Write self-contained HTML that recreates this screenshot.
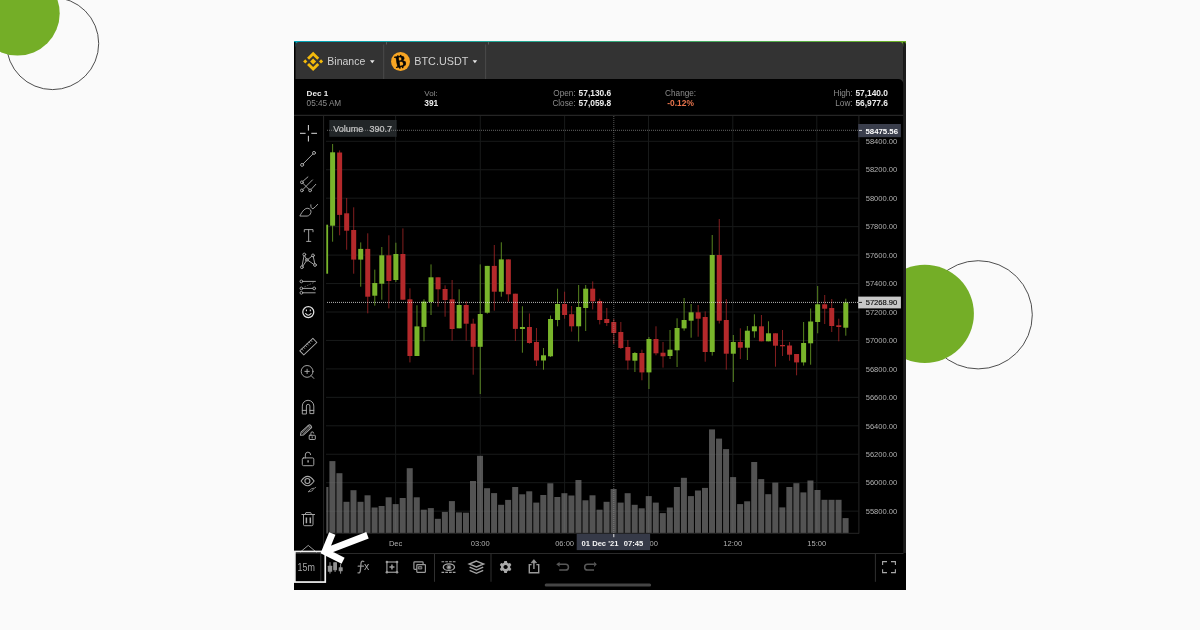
<!DOCTYPE html>
<html lang="en">
<head>
<meta charset="utf-8">
<title>Binance BTC.USDT 15m chart</title>
<style>
html,body{margin:0;padding:0;}
body{width:1200px;height:630px;overflow:hidden;background:#fafafa;position:relative;}
svg{position:absolute;left:0;top:0;display:block;}
text{font-family:"Liberation Sans",Arial,sans-serif;}
.ax text{font-size:7.55px;fill:#b0b0b0;}
.lbl{fill:#8c8c8c;font-size:8.2px;}
.val{fill:#ececec;font-size:8.4px;font-weight:bold;}
.ic{fill:none;stroke:#aaaaaa;stroke-width:0.95;stroke-linecap:round;stroke-linejoin:round;}
.ic2{fill:none;stroke:#a0a0a0;stroke-width:1.2;stroke-linecap:round;stroke-linejoin:round;}
</style>
</head>
<body>
<svg width="1200" height="630" viewBox="0 0 1200 630">
<defs>
<linearGradient id="topg" x1="0" x2="1" y1="0" y2="0">
<stop offset="0" stop-color="#00a3b8"/><stop offset="0.45" stop-color="#2aa88a"/><stop offset="1" stop-color="#6cb022"/>
</linearGradient>
<clipPath id="plotclip"><rect x="326.3" y="116" width="532.2" height="417"/></clipPath>
</defs>

<!-- decorative circles -->
<circle cx="52.6" cy="43.5" r="46.1" fill="none" stroke="#3a3a3a" stroke-width="0.9"/>
<circle cx="17.5" cy="13.4" r="42.2" fill="#74ae27"/>
<circle cx="978.2" cy="314.8" r="54.1" fill="none" stroke="#3a3a3a" stroke-width="0.9"/>
<circle cx="924.8" cy="313.8" r="49.1" fill="#74ae27"/>

<!-- screenshot panel -->
<rect x="294" y="41" width="612" height="549" fill="#000"/>
<rect x="294" y="41" width="612" height="5.5" fill="url(#topg)"/>
<rect x="294" y="42.1" width="1.6" height="10" fill="#000"/>
<path d="M903.2 553 V42.1 H903.6 a2.4 2.4 0 0 1 2.4 2.4 V553 Z" fill="#1d1d1d"/>
<path d="M295.5 79 V45.6 a3.5 3.5 0 0 1 3.5 -3.5 H899.6 a3.5 3.5 0 0 1 3.5 3.5 V79 Z" fill="#333"/>
<path d="M898.3 79 H903.3 V84 a5 5 0 0 0 -5 -5 Z" fill="#333"/>
<!-- header separators -->
<g stroke="#4a4a4a" stroke-width="1"><line x1="383.7" x2="383.7" y1="44.5" y2="79"/><line x1="485.6" x2="485.6" y1="44.5" y2="79"/></g>
<g stroke="#666" stroke-width="0.8"><line x1="386.5" x2="386.5" y1="42" y2="44.5"/><line x1="488.5" x2="488.5" y1="42" y2="44.5"/></g>

<!-- Binance logo -->
<g transform="translate(313.15 61.4)" fill="#f3ba0c">
<path d="M0 -9.7 L6.1 -3.6 L4.1 -1.6 L0 -5.7 L-4.1 -1.6 L-6.1 -3.6 Z"/>
<path d="M0 9.7 L6.1 3.6 L4.1 1.6 L0 5.7 L-4.1 1.6 L-6.1 3.6 Z"/>
<path d="M0 -3 L3 0 L0 3 L-3 0 Z"/>
<path d="M-7.9 -2.1 L-5.8 0 L-7.9 2.1 L-10 0 Z"/>
<path d="M7.9 -2.1 L10 0 L7.9 2.1 L5.8 0 Z"/>
</g>
<text x="327.3" y="65.1" font-size="10.5" fill="#d0d0d0">Binance</text>
<path d="M370 60.3 h4.6 l-2.3 2.9 z" fill="#e6e6e6"/>

<!-- BTC logo -->
<circle cx="400.5" cy="61.55" r="9.45" fill="#f8a623"/>
<g transform="rotate(-10 400.5 61.55)">
<text x="400.5" y="67" font-size="16.5" font-weight="bold" fill="#050505" stroke="#050505" stroke-width="0.5" text-anchor="middle" style="font-family:'Liberation Serif',serif">B</text>
<path d="M398.8 55 v2 M401.6 55 v2 M398.8 66.4 v2 M401.6 66.4 v2" stroke="#050505" stroke-width="1.5"/>
</g>
<text x="414.3" y="65.1" font-size="10.8" fill="#d0d0d0">BTC.USDT</text>
<path d="M472.6 60.3 h4.6 l-2.3 2.9 z" fill="#e6e6e6"/>

<!-- info bar -->
<text x="306.6" y="96.2" class="val" style="font-size:8.1px">Dec 1</text>
<text x="306.6" y="106.4" class="lbl">05:45 AM</text>
<text x="424.3" y="96.2" class="lbl" style="font-size:8px">Vol:</text>
<text x="424.3" y="106.4" class="val">391</text>
<text x="575.6" y="96.2" class="lbl" text-anchor="end">Open:</text>
<text x="578.6" y="96.2" class="val">57,130.6</text>
<text x="575.6" y="106.4" class="lbl" text-anchor="end">Close:</text>
<text x="578.6" y="106.4" class="val">57,059.8</text>
<text x="680.6" y="96.2" class="lbl" text-anchor="middle">Change:</text>
<text x="680.6" y="106.4" class="val" text-anchor="middle" style="fill:#e8744c">-0.12%</text>
<text x="852.6" y="96.2" class="lbl" text-anchor="end">High:</text>
<text x="855.4" y="96.2" class="val">57,140.0</text>
<text x="852.6" y="106.4" class="lbl" text-anchor="end">Low:</text>
<text x="855.4" y="106.4" class="val">56,977.6</text>
<rect x="294" y="114.8" width="609.3" height="1" fill="#2e2e2e"/>

<!-- chart -->
<g stroke="#181a1a" stroke-width="1">
<line x1="326" x2="858.5" y1="141.3" y2="141.3"/>
<line x1="326" x2="858.5" y1="169.75" y2="169.75"/>
<line x1="326" x2="858.5" y1="198.2" y2="198.2"/>
<line x1="326" x2="858.5" y1="226.65" y2="226.65"/>
<line x1="326" x2="858.5" y1="255.1" y2="255.1"/>
<line x1="326" x2="858.5" y1="283.55" y2="283.55"/>
<line x1="326" x2="858.5" y1="312" y2="312"/>
<line x1="326" x2="858.5" y1="340.45" y2="340.45"/>
<line x1="326" x2="858.5" y1="368.9" y2="368.9"/>
<line x1="326" x2="858.5" y1="397.35" y2="397.35"/>
<line x1="326" x2="858.5" y1="425.8" y2="425.8"/>
<line x1="326" x2="858.5" y1="454.25" y2="454.25"/>
<line x1="326" x2="858.5" y1="482.7" y2="482.7"/>
<line x1="326" x2="858.5" y1="511.15" y2="511.15"/>
<line x1="395.6" x2="395.6" y1="116" y2="533"/>
<line x1="480.3" x2="480.3" y1="116" y2="533"/>
<line x1="564.6" x2="564.6" y1="116" y2="533"/>
<line x1="648.5" x2="648.5" y1="116" y2="533"/>
<line x1="732.8" x2="732.8" y1="116" y2="533"/>
<line x1="816.8" x2="816.8" y1="116" y2="533"/>
</g>
<g fill="#7a7a7a" fill-opacity="0.68" clip-path="url(#plotclip)">
<rect x="322.37" y="487" width="6" height="46"/>
<rect x="329.4" y="461.1" width="6" height="71.9"/>
<rect x="336.43" y="473.2" width="6" height="59.8"/>
<rect x="343.46" y="501.8" width="6" height="31.2"/>
<rect x="350.49" y="490.2" width="6" height="42.8"/>
<rect x="357.52" y="501.8" width="6" height="31.2"/>
<rect x="364.55" y="495.3" width="6" height="37.7"/>
<rect x="371.58" y="507.5" width="6" height="25.5"/>
<rect x="378.61" y="506" width="6" height="27"/>
<rect x="385.64" y="497.3" width="6" height="35.7"/>
<rect x="392.67" y="504.1" width="6" height="28.9"/>
<rect x="399.7" y="498" width="6" height="35"/>
<rect x="406.73" y="468.2" width="6" height="64.8"/>
<rect x="413.76" y="497.3" width="6" height="35.7"/>
<rect x="420.79" y="509.7" width="6" height="23.3"/>
<rect x="427.82" y="508.1" width="6" height="24.9"/>
<rect x="434.85" y="518.8" width="6" height="14.2"/>
<rect x="441.88" y="511.9" width="6" height="21.1"/>
<rect x="448.91" y="501.1" width="6" height="31.9"/>
<rect x="455.94" y="512.4" width="6" height="20.6"/>
<rect x="462.97" y="512.7" width="6" height="20.3"/>
<rect x="470" y="481" width="6" height="52"/>
<rect x="477.03" y="455.8" width="6" height="77.2"/>
<rect x="484.06" y="488.2" width="6" height="44.8"/>
<rect x="491.09" y="493.1" width="6" height="39.9"/>
<rect x="498.12" y="504.8" width="6" height="28.2"/>
<rect x="505.15" y="499.9" width="6" height="33.1"/>
<rect x="512.18" y="487" width="6" height="46"/>
<rect x="519.21" y="494.3" width="6" height="38.7"/>
<rect x="526.24" y="491.3" width="6" height="41.7"/>
<rect x="533.27" y="502.6" width="6" height="30.4"/>
<rect x="540.3" y="495" width="6" height="38"/>
<rect x="547.33" y="483.3" width="6" height="49.7"/>
<rect x="554.36" y="497" width="6" height="36"/>
<rect x="561.39" y="493.2" width="6" height="39.8"/>
<rect x="568.42" y="495.5" width="6" height="37.5"/>
<rect x="575.45" y="480" width="6" height="53"/>
<rect x="582.48" y="500.3" width="6" height="32.7"/>
<rect x="589.51" y="495.3" width="6" height="37.7"/>
<rect x="596.54" y="509.7" width="6" height="23.3"/>
<rect x="603.57" y="501.8" width="6" height="31.2"/>
<rect x="610.6" y="489" width="6" height="44"/>
<rect x="617.63" y="502.6" width="6" height="30.4"/>
<rect x="624.66" y="493.2" width="6" height="39.8"/>
<rect x="631.69" y="504.8" width="6" height="28.2"/>
<rect x="638.72" y="508.3" width="6" height="24.7"/>
<rect x="645.75" y="496.1" width="6" height="36.9"/>
<rect x="652.78" y="502.6" width="6" height="30.4"/>
<rect x="659.81" y="513.1" width="6" height="19.9"/>
<rect x="666.84" y="507.5" width="6" height="25.5"/>
<rect x="673.87" y="487" width="6" height="46"/>
<rect x="680.9" y="477.8" width="6" height="55.2"/>
<rect x="687.93" y="496.1" width="6" height="36.9"/>
<rect x="694.96" y="490.5" width="6" height="42.5"/>
<rect x="701.99" y="487.9" width="6" height="45.1"/>
<rect x="709.02" y="429.4" width="6" height="103.6"/>
<rect x="716.05" y="438.6" width="6" height="94.4"/>
<rect x="723.08" y="449.1" width="6" height="83.9"/>
<rect x="730.11" y="477.1" width="6" height="55.9"/>
<rect x="737.14" y="504.1" width="6" height="28.9"/>
<rect x="744.17" y="501.3" width="6" height="31.7"/>
<rect x="751.2" y="462" width="6" height="71"/>
<rect x="758.23" y="479.1" width="6" height="53.9"/>
<rect x="765.26" y="494.2" width="6" height="38.8"/>
<rect x="772.29" y="482.6" width="6" height="50.4"/>
<rect x="779.32" y="507.4" width="6" height="25.6"/>
<rect x="786.35" y="487" width="6" height="46"/>
<rect x="793.38" y="483.2" width="6" height="49.8"/>
<rect x="800.41" y="492.4" width="6" height="40.6"/>
<rect x="807.44" y="480.5" width="6" height="52.5"/>
<rect x="814.47" y="490" width="6" height="43"/>
<rect x="821.5" y="499.8" width="6" height="33.2"/>
<rect x="828.53" y="499.8" width="6" height="33.2"/>
<rect x="835.56" y="499.8" width="6" height="33.2"/>
<rect x="842.59" y="518.1" width="6" height="14.9"/>
</g>
<g clip-path="url(#plotclip)">
<rect x="323.1" y="224.7" width="5" height="49" fill="#79b52b"/>
<rect x="332.1" y="144" width="1" height="97.7" fill="#79b52b" fill-opacity="0.72"/>
<rect x="330.1" y="152.3" width="5" height="73.4" fill="#79b52b"/>
<rect x="339.13" y="150.4" width="1" height="84.9" fill="#b4292b" fill-opacity="0.72"/>
<rect x="337.13" y="152.5" width="5" height="62.4" fill="#b4292b"/>
<rect x="346.16" y="198" width="1" height="51.7" fill="#b4292b" fill-opacity="0.72"/>
<rect x="344.16" y="213.3" width="5" height="17.4" fill="#b4292b"/>
<rect x="353.19" y="207.3" width="1" height="66.4" fill="#b4292b" fill-opacity="0.72"/>
<rect x="351.19" y="230" width="5" height="29.6" fill="#b4292b"/>
<rect x="360.22" y="242.4" width="1" height="44.3" fill="#79b52b" fill-opacity="0.72"/>
<rect x="358.22" y="248.9" width="5" height="10.7" fill="#79b52b"/>
<rect x="367.25" y="233.3" width="1" height="80" fill="#b4292b" fill-opacity="0.72"/>
<rect x="365.25" y="248.9" width="5" height="47.8" fill="#b4292b"/>
<rect x="374.28" y="269.6" width="1" height="36" fill="#79b52b" fill-opacity="0.72"/>
<rect x="372.28" y="283" width="5" height="12.7" fill="#79b52b"/>
<rect x="381.31" y="247" width="1" height="52.7" fill="#79b52b" fill-opacity="0.72"/>
<rect x="379.31" y="255.3" width="5" height="28.4" fill="#79b52b"/>
<rect x="388.34" y="235.3" width="1" height="73.1" fill="#b4292b" fill-opacity="0.72"/>
<rect x="386.34" y="255.3" width="5" height="25.7" fill="#b4292b"/>
<rect x="395.37" y="242.7" width="1" height="39.3" fill="#79b52b" fill-opacity="0.72"/>
<rect x="393.37" y="254" width="5" height="26" fill="#79b52b"/>
<rect x="402.4" y="228.4" width="1" height="71.3" fill="#b4292b" fill-opacity="0.72"/>
<rect x="400.4" y="254" width="5" height="45.7" fill="#b4292b"/>
<rect x="409.43" y="288.3" width="1" height="74.1" fill="#b4292b" fill-opacity="0.72"/>
<rect x="407.43" y="299.3" width="5" height="56.7" fill="#b4292b"/>
<rect x="416.46" y="305.3" width="1" height="50.7" fill="#79b52b" fill-opacity="0.72"/>
<rect x="414.46" y="326.4" width="5" height="29.6" fill="#79b52b"/>
<rect x="423.49" y="299.3" width="1" height="42" fill="#79b52b" fill-opacity="0.72"/>
<rect x="421.49" y="301.6" width="5" height="25.3" fill="#79b52b"/>
<rect x="430.52" y="264.4" width="1" height="50.6" fill="#79b52b" fill-opacity="0.72"/>
<rect x="428.52" y="277.3" width="5" height="24.7" fill="#79b52b"/>
<rect x="437.55" y="277.3" width="1" height="29.4" fill="#b4292b" fill-opacity="0.72"/>
<rect x="435.55" y="277.3" width="5" height="12" fill="#b4292b"/>
<rect x="444.58" y="285.3" width="1" height="31.4" fill="#b4292b" fill-opacity="0.72"/>
<rect x="442.58" y="289" width="5" height="11" fill="#b4292b"/>
<rect x="451.61" y="280" width="1" height="60.7" fill="#b4292b" fill-opacity="0.72"/>
<rect x="449.61" y="299.3" width="5" height="29.7" fill="#b4292b"/>
<rect x="458.64" y="289.3" width="1" height="39" fill="#79b52b" fill-opacity="0.72"/>
<rect x="456.64" y="305" width="5" height="23.3" fill="#79b52b"/>
<rect x="465.67" y="301.3" width="1" height="39.4" fill="#b4292b" fill-opacity="0.72"/>
<rect x="463.67" y="305" width="5" height="18.7" fill="#b4292b"/>
<rect x="472.7" y="318.7" width="1" height="56" fill="#b4292b" fill-opacity="0.72"/>
<rect x="470.7" y="323.7" width="5" height="23.1" fill="#b4292b"/>
<rect x="479.73" y="264.4" width="1" height="129.6" fill="#79b52b" fill-opacity="0.72"/>
<rect x="477.73" y="314" width="5" height="32.8" fill="#79b52b"/>
<rect x="486.76" y="265.9" width="1" height="47.8" fill="#79b52b" fill-opacity="0.72"/>
<rect x="484.76" y="265.9" width="5" height="46.8" fill="#79b52b"/>
<rect x="493.79" y="245" width="1" height="65.7" fill="#b4292b" fill-opacity="0.72"/>
<rect x="491.79" y="265.9" width="5" height="25.8" fill="#b4292b"/>
<rect x="500.82" y="242.3" width="1" height="54.4" fill="#79b52b" fill-opacity="0.72"/>
<rect x="498.82" y="259.4" width="5" height="32.3" fill="#79b52b"/>
<rect x="507.85" y="259.4" width="1" height="42.3" fill="#b4292b" fill-opacity="0.72"/>
<rect x="505.85" y="259.4" width="5" height="34.9" fill="#b4292b"/>
<rect x="514.88" y="293.7" width="1" height="47.3" fill="#b4292b" fill-opacity="0.72"/>
<rect x="512.88" y="293.7" width="5" height="35.2" fill="#b4292b"/>
<rect x="521.91" y="306.3" width="1" height="46.4" fill="#79b52b" fill-opacity="0.72"/>
<rect x="519.91" y="327" width="5" height="2" fill="#79b52b"/>
<rect x="528.94" y="313.5" width="1" height="30.2" fill="#b4292b" fill-opacity="0.72"/>
<rect x="526.94" y="327" width="5" height="16" fill="#b4292b"/>
<rect x="535.97" y="328" width="1" height="38" fill="#b4292b" fill-opacity="0.72"/>
<rect x="533.97" y="342" width="5" height="18.5" fill="#b4292b"/>
<rect x="543" y="348" width="1" height="21.7" fill="#79b52b" fill-opacity="0.72"/>
<rect x="541" y="355.3" width="5" height="5.2" fill="#79b52b"/>
<rect x="550.03" y="315.5" width="1" height="41.5" fill="#79b52b" fill-opacity="0.72"/>
<rect x="548.03" y="319" width="5" height="37.3" fill="#79b52b"/>
<rect x="557.06" y="288.7" width="1" height="37.6" fill="#79b52b" fill-opacity="0.72"/>
<rect x="555.06" y="304" width="5" height="16" fill="#79b52b"/>
<rect x="564.09" y="291.7" width="1" height="27" fill="#b4292b" fill-opacity="0.72"/>
<rect x="562.09" y="304" width="5" height="11" fill="#b4292b"/>
<rect x="571.12" y="306" width="1" height="25.6" fill="#b4292b" fill-opacity="0.72"/>
<rect x="569.12" y="314.2" width="5" height="12.1" fill="#b4292b"/>
<rect x="578.15" y="285" width="1" height="56.5" fill="#79b52b" fill-opacity="0.72"/>
<rect x="576.15" y="307" width="5" height="19.3" fill="#79b52b"/>
<rect x="585.18" y="285" width="1" height="46" fill="#79b52b" fill-opacity="0.72"/>
<rect x="583.18" y="288.7" width="5" height="19.3" fill="#79b52b"/>
<rect x="592.21" y="281.4" width="1" height="28" fill="#b4292b" fill-opacity="0.72"/>
<rect x="590.21" y="288.7" width="5" height="12.6" fill="#b4292b"/>
<rect x="599.24" y="298.7" width="1" height="25.7" fill="#b4292b" fill-opacity="0.72"/>
<rect x="597.24" y="301" width="5" height="19" fill="#b4292b"/>
<rect x="606.27" y="308" width="1" height="18" fill="#b4292b" fill-opacity="0.72"/>
<rect x="604.27" y="319" width="5" height="4" fill="#b4292b"/>
<rect x="613.3" y="319" width="1" height="25" fill="#b4292b" fill-opacity="0.72"/>
<rect x="611.3" y="322" width="5" height="11" fill="#b4292b"/>
<rect x="620.33" y="322" width="1" height="27" fill="#b4292b" fill-opacity="0.72"/>
<rect x="618.33" y="332" width="5" height="16" fill="#b4292b"/>
<rect x="627.36" y="340" width="1" height="29.7" fill="#b4292b" fill-opacity="0.72"/>
<rect x="625.36" y="347" width="5" height="13.5" fill="#b4292b"/>
<rect x="634.39" y="352" width="1" height="20" fill="#79b52b" fill-opacity="0.72"/>
<rect x="632.39" y="353" width="5" height="7.7" fill="#79b52b"/>
<rect x="641.42" y="349.7" width="1" height="30.6" fill="#b4292b" fill-opacity="0.72"/>
<rect x="639.42" y="353" width="5" height="19.4" fill="#b4292b"/>
<rect x="648.45" y="337" width="1" height="52" fill="#79b52b" fill-opacity="0.72"/>
<rect x="646.45" y="339" width="5" height="33.4" fill="#79b52b"/>
<rect x="655.48" y="326.3" width="1" height="29" fill="#b4292b" fill-opacity="0.72"/>
<rect x="653.48" y="339" width="5" height="14.3" fill="#b4292b"/>
<rect x="662.51" y="342" width="1" height="25.6" fill="#b4292b" fill-opacity="0.72"/>
<rect x="660.51" y="352.7" width="5" height="3.6" fill="#b4292b"/>
<rect x="669.54" y="330" width="1" height="29" fill="#79b52b" fill-opacity="0.72"/>
<rect x="667.54" y="349.7" width="5" height="6.3" fill="#79b52b"/>
<rect x="676.57" y="318.3" width="1" height="48.7" fill="#79b52b" fill-opacity="0.72"/>
<rect x="674.57" y="328" width="5" height="22.3" fill="#79b52b"/>
<rect x="683.6" y="298" width="1" height="32.7" fill="#79b52b" fill-opacity="0.72"/>
<rect x="681.6" y="320" width="5" height="8.4" fill="#79b52b"/>
<rect x="690.63" y="304" width="1" height="33.7" fill="#79b52b" fill-opacity="0.72"/>
<rect x="688.63" y="312.3" width="5" height="8.4" fill="#79b52b"/>
<rect x="697.66" y="305" width="1" height="31.7" fill="#b4292b" fill-opacity="0.72"/>
<rect x="695.66" y="312.3" width="5" height="6.4" fill="#b4292b"/>
<rect x="704.69" y="311.4" width="1" height="50.3" fill="#b4292b" fill-opacity="0.72"/>
<rect x="702.69" y="317" width="5" height="35" fill="#b4292b"/>
<rect x="711.72" y="235" width="1" height="120.6" fill="#79b52b" fill-opacity="0.72"/>
<rect x="709.72" y="255" width="5" height="97" fill="#79b52b"/>
<rect x="718.75" y="219" width="1" height="104.5" fill="#b4292b" fill-opacity="0.72"/>
<rect x="716.75" y="255" width="5" height="65.7" fill="#b4292b"/>
<rect x="725.78" y="299" width="1" height="70.6" fill="#b4292b" fill-opacity="0.72"/>
<rect x="723.78" y="320" width="5" height="33.7" fill="#b4292b"/>
<rect x="732.81" y="335" width="1" height="47" fill="#79b52b" fill-opacity="0.72"/>
<rect x="730.81" y="342" width="5" height="11.7" fill="#79b52b"/>
<rect x="739.84" y="328.3" width="1" height="30.7" fill="#b4292b" fill-opacity="0.72"/>
<rect x="737.84" y="342" width="5" height="5.7" fill="#b4292b"/>
<rect x="746.87" y="326" width="1" height="34" fill="#79b52b" fill-opacity="0.72"/>
<rect x="744.87" y="330.7" width="5" height="17" fill="#79b52b"/>
<rect x="753.9" y="314.3" width="1" height="23.4" fill="#79b52b" fill-opacity="0.72"/>
<rect x="751.9" y="326.3" width="5" height="5" fill="#79b52b"/>
<rect x="760.93" y="315" width="1" height="26.3" fill="#b4292b" fill-opacity="0.72"/>
<rect x="758.93" y="326.3" width="5" height="15" fill="#b4292b"/>
<rect x="767.96" y="321.3" width="1" height="20" fill="#79b52b" fill-opacity="0.72"/>
<rect x="765.96" y="333.3" width="5" height="8" fill="#79b52b"/>
<rect x="774.99" y="333.3" width="1" height="33.4" fill="#b4292b" fill-opacity="0.72"/>
<rect x="772.99" y="333.3" width="5" height="12.4" fill="#b4292b"/>
<rect x="782.02" y="330" width="1" height="26" fill="#b4292b" fill-opacity="0.72"/>
<rect x="780.02" y="345" width="5" height="1.3" fill="#b4292b"/>
<rect x="789.05" y="342" width="1" height="18.7" fill="#b4292b" fill-opacity="0.72"/>
<rect x="787.05" y="345.5" width="5" height="9.2" fill="#b4292b"/>
<rect x="796.08" y="354" width="1" height="21.3" fill="#b4292b" fill-opacity="0.72"/>
<rect x="794.08" y="354" width="5" height="8.4" fill="#b4292b"/>
<rect x="803.11" y="322" width="1" height="43.6" fill="#79b52b" fill-opacity="0.72"/>
<rect x="801.11" y="343" width="5" height="19.4" fill="#79b52b"/>
<rect x="810.14" y="308.5" width="1" height="56.2" fill="#79b52b" fill-opacity="0.72"/>
<rect x="808.14" y="321.5" width="5" height="21.8" fill="#79b52b"/>
<rect x="817.17" y="286" width="1" height="47.3" fill="#79b52b" fill-opacity="0.72"/>
<rect x="815.17" y="304.3" width="5" height="17.7" fill="#79b52b"/>
<rect x="824.2" y="295" width="1" height="29" fill="#b4292b" fill-opacity="0.72"/>
<rect x="822.2" y="304.3" width="5" height="4.4" fill="#b4292b"/>
<rect x="831.23" y="299" width="1" height="33" fill="#b4292b" fill-opacity="0.72"/>
<rect x="829.23" y="308" width="5" height="18" fill="#b4292b"/>
<rect x="838.26" y="318.7" width="1" height="22.6" fill="#b4292b" fill-opacity="0.72"/>
<rect x="836.26" y="325.3" width="5" height="1.7" fill="#b4292b"/>
<rect x="845.29" y="298.7" width="1" height="37" fill="#79b52b" fill-opacity="0.72"/>
<rect x="843.29" y="302.4" width="5" height="25.3" fill="#79b52b"/>
</g>
<!-- plot borders -->
<g stroke="#262626" stroke-width="1">
<line x1="323.6" x2="323.6" y1="116" y2="553"/>
<line x1="858.9" x2="858.9" y1="116" y2="533.5"/>
<line x1="326" x2="859" y1="533.3" y2="533.3"/>
</g>
<!-- current price dotted line -->
<line x1="327" x2="858" y1="302.4" y2="302.4" stroke="#f0f0f0" stroke-width="1" stroke-dasharray="1 1" opacity="0.75"/>
<!-- crosshair -->
<line x1="613.8" x2="613.8" y1="116" y2="533" stroke="#9a9a9a" stroke-width="1" stroke-dasharray="1 1" opacity="0.55"/>

<!-- Volume legend -->
<rect x="329.3" y="120" width="67.4" height="16.8" fill="#2a3032" opacity="0.8"/>
<line x1="327" x2="858" y1="130.3" y2="130.3" stroke="#9a9a9a" stroke-width="1" stroke-dasharray="1 1" opacity="0.65"/>
<text x="333.2" y="131.8" font-size="9" fill="#c4c4c4" stroke="#c4c4c4" stroke-width="0.2">Volume</text>
<text x="369.6" y="131.8" font-size="9" fill="#c4c4c4" stroke="#c4c4c4" stroke-width="0.2">390.7</text>

<!-- axis labels -->
<g class="ax">
<text x="865.7" y="144">58400.00</text>
<text x="865.7" y="172.45">58200.00</text>
<text x="865.7" y="200.9">58000.00</text>
<text x="865.7" y="229.35">57800.00</text>
<text x="865.7" y="257.8">57600.00</text>
<text x="865.7" y="286.25">57400.00</text>
<text x="865.7" y="314.7">57200.00</text>
<text x="865.7" y="343.15">57000.00</text>
<text x="865.7" y="371.6">56800.00</text>
<text x="865.7" y="400.05">56600.00</text>
<text x="865.7" y="428.5">56400.00</text>
<text x="865.7" y="456.95">56200.00</text>
<text x="865.7" y="485.4">56000.00</text>
<text x="865.7" y="513.85">55800.00</text>
<text x="395.6" y="545.7" text-anchor="middle">Dec</text>
<text x="480.3" y="545.7" text-anchor="middle">03:00</text>
<text x="564.6" y="545.7" text-anchor="middle">06:00</text>
<text x="648.5" y="545.7" text-anchor="middle">09:00</text>
<text x="732.8" y="545.7" text-anchor="middle">12:00</text>
<text x="816.8" y="545.7" text-anchor="middle">15:00</text>
</g>
<!-- price tags -->
<rect x="858.2" y="124" width="42.7" height="13.2" fill="#3a3e4c"/>
<line x1="859" x2="862" y1="130.4" y2="130.4" stroke="#e0e0e0" stroke-width="1"/>
<text x="865.5" y="133.6" font-size="7.8" font-weight="bold" fill="#fff">58475.56</text>
<rect x="858.2" y="296.6" width="42.7" height="11.8" fill="#c8c8c8"/>
<line x1="859" x2="862" y1="302.4" y2="302.4" stroke="#222" stroke-width="1"/>
<text x="865.7" y="305.2" font-size="7.55" fill="#0c0c0c" stroke="#0c0c0c" stroke-width="0.15">57268.90</text>
<!-- crosshair time tag -->
<rect x="576.7" y="533.8" width="73.4" height="16.3" fill="#363a48"/>
<line x1="613.8" x2="613.8" y1="534" y2="537.2" stroke="#e8e8e8" stroke-width="1"/>
<text x="581.6" y="545.8" font-size="7.6" font-weight="bold" fill="#f4f4f4">01 Dec '21</text>
<text x="623.8" y="545.8" font-size="7.6" font-weight="bold" fill="#f4f4f4">07:45</text>

<!-- left toolbar icons -->
<g id="ltools">
<!-- crosshair -->
<g stroke="#dcdcdc" stroke-width="1"><line x1="308.4" x2="308.4" y1="125" y2="130.6"/><line x1="308.4" x2="308.4" y1="135.8" y2="141.5"/><line x1="300" x2="305.6" y1="133.3" y2="133.3"/><line x1="311.3" x2="317" y1="133.3" y2="133.3"/></g>
<!-- trend line -->
<g class="ic"><line x1="303.2" y1="163.8" x2="312.9" y2="154"/><circle cx="302.1" cy="164.9" r="1.5"/><circle cx="314" cy="152.9" r="1.5"/></g>
<!-- pitchfork -->
<g class="ic"><line x1="303" y1="181.2" x2="307.9" y2="176.9"/><line x1="303" y1="189.4" x2="312.5" y2="179.9"/><line x1="311.2" y1="189.3" x2="315.8" y2="184.3"/><line x1="303.1" y1="183.5" x2="309.1" y2="189.4"/><circle cx="301.9" cy="182.3" r="1.4"/><circle cx="301.9" cy="190.4" r="1.4"/><circle cx="310.1" cy="190.4" r="1.4"/></g>
<!-- brush -->
<g class="ic"><path d="M300 215.7 C302.6 210.6 305.2 208 307.9 208.3 C310.3 208.8 311.4 210.6 310.9 212.5 C310.3 214.7 309.1 215.8 307.6 216 Z"/><path d="M310.8 204.8 C310.6 207 311.4 208.6 313 208.8 C314.8 207.6 316.2 206 317.6 204.4"/></g>
<!-- text T -->
<g class="ic" stroke-linecap="butt"><path d="M304.3 231.8 V229.6 H313 V231.8 M308.65 229.6 V241.4 M306.6 241.4 H310.8"/></g>
<!-- pattern -->
<g class="ic"><path d="M304.6 255.8 L306.6 259.2 M307.9 259.4 L311.9 256.2 M313.3 256.8 L314.8 263.6 M313.8 264.4 L308 260.4 M306.4 260.8 L302.8 266.2 M302.1 265.8 L304 256"/><circle cx="304.3" cy="254.5" r="1.4"/><circle cx="313" cy="255.4" r="1.4"/><circle cx="315" cy="265" r="1.4"/><circle cx="301.9" cy="267.2" r="1.4"/><rect x="306.1" y="258.9" width="2" height="2"/></g>
<!-- forecast/measure -->
<g class="ic"><line x1="303" x2="315.4" y1="281.4" y2="281.4"/><line x1="303" x2="312.8" y1="288.4" y2="288.4"/><line x1="303" x2="315.2" y1="292.8" y2="292.8"/><circle cx="301.4" cy="281.4" r="1.4"/><circle cx="301.4" cy="288.4" r="1.4"/><circle cx="314.2" cy="288.4" r="1.4"/><circle cx="301.4" cy="292.8" r="1.4"/><line x1="304.7" y1="286.7" x2="313.4" y2="282.7" stroke-dasharray="1 1.8" stroke-width="0.8" opacity="0.6"/></g>
<!-- smiley -->
<g fill="none" stroke="#e2e2e2" stroke-width="1.25" stroke-linecap="round"><circle cx="308.3" cy="312.1" r="5.5"/><path d="M305.6 313.5 Q308.3 316.9 311 313.5" stroke-width="1.1"/><path d="M306.4 309.5 v1.8 M310.3 309.5 v1.8" stroke-width="1.1" stroke-linecap="butt"/></g>
<!-- ruler -->
<g class="ic" transform="rotate(-43.7 308.35 346.65)"><rect x="299.3" y="343.75" width="18.1" height="5.8"/><path d="M302 343.75 v1.9 M304.5 343.75 v1.9 M307 343.75 v1.9 M309.5 343.75 v1.9 M312 343.75 v1.9 M314.5 343.75 v1.9" stroke-width="0.7"/></g>
<!-- zoom -->
<g class="ic"><circle cx="307.1" cy="371.4" r="5.9"/><path d="M307.1 369.2 v4.4 M304.9 371.4 h4.4 M311.2 375.7 L313.8 378.4"/></g>
<!-- magnet -->
<g class="ic" stroke-linejoin="miter"><path d="M302.3 413.6 V406.05 a5.75 5.75 0 0 1 11.5 0 V413.6 H309.9 V406.05 a1.75 1.75 0 0 0 -3.5 0 V413.6 Z"/><path d="M302.3 410.4 h4.1 M309.9 410.4 h3.9"/></g>
<!-- pencil lock -->
<g class="ic"><g transform="translate(300.4 435.3) rotate(-42.4)"><path d="M0 0 L2.6 -1.9 H13 a1.2 1.2 0 0 1 1.2 1.2 v1.4 a1.2 1.2 0 0 1 -1.2 1.2 H2.6 Z"/><path d="M2.6 -0.65 H14 M2.6 0.65 H14 M12.2 -1.9 V1.9" stroke-width="0.6"/></g><rect x="309.2" y="435.3" width="6.1" height="4.2" rx="0.5"/><path d="M310.9 435.3 v-1.9 a1.4 1.4 0 0 1 2.8 -0.3"/><line x1="312.2" x2="312.2" y1="436.8" y2="438"/></g>
<!-- lock -->
<g class="ic"><rect x="302.3" y="457.9" width="11.5" height="7.8" rx="1.3"/><path d="M305.3 457.9 v-2.9 a2.7 2.7 0 0 1 5.4 -0.3"/><line x1="308.1" x2="308.1" y1="460.2" y2="462.6" stroke-width="1.4" stroke-linecap="butt"/></g>
<!-- eye -->
<g class="ic" style="stroke-width:1.1"><path d="M301.1 481 Q307.6 471.7 314.1 481 Q307.6 490.4 301.1 481 Z"/><circle cx="307.4" cy="481" r="2.5"/><path d="M308.4 491.6 L310.6 489.4 Q312 488 313.2 488.6 Q313.6 490 312.2 490.8 Z M313.4 488.4 Q314.8 488.6 315.8 487.4" stroke-width="0.7"/></g>
<!-- trash -->
<g class="ic"><path d="M303.5 514.5 V524.5 a1.2 1.2 0 0 0 1.2 1.2 h7.1 a1.2 1.2 0 0 0 1.2 -1.2 V514.5"/><path d="M301.9 514.5 H314.6 M305.2 514.3 L305.9 512.6 H310.7 L311.4 514.3"/><path d="M306.4 517.4 v5.8 M310.3 517.4 v5.8" stroke-width="1.5" stroke-linecap="butt"/></g>
<!-- caret -->
<path d="M300 552.3 L308.25 545.4 L316.5 552.3" fill="none" stroke="#a8a8a8" stroke-width="0.9"/>
</g>

<!-- bottom toolbar -->
<rect x="294" y="553" width="609.5" height="1" fill="#2a2a2a"/>
<g stroke="#303030" stroke-width="1">
<line x1="320.8" x2="320.8" y1="554" y2="581.8"/>
<line x1="434.5" x2="434.5" y1="554" y2="581.8"/>
<line x1="875.4" x2="875.4" y1="554" y2="581.8"/>
</g>
<line x1="491" x2="491" y1="554" y2="581.8" stroke="#181818" stroke-width="2"/>
<text x="297.5" y="571.4" font-size="11.7" fill="#a6a6a6" textLength="17.4" lengthAdjust="spacingAndGlyphs">15m</text>
<!-- candles icon -->
<g fill="#919191" stroke="none"><rect x="327.8" y="565.7" width="4.4" height="6" rx="0.5"/><rect x="329.5" y="562.2" width="1" height="11.3"/><rect x="333.2" y="562.2" width="3.8" height="8" rx="0.5"/><rect x="334.6" y="562.2" width="1" height="9.8"/><rect x="338.7" y="567.2" width="4" height="4" rx="0.5"/><rect x="340.1" y="563.7" width="1" height="10"/></g>
<!-- fx -->
<path d="M363.8 561.5 C362.2 560.6 361.2 561.5 361 563.2 L360.4 570.4 C360.2 572.4 359.4 573.2 358 572.8 M358.2 566.2 H363.5" fill="none" stroke="#929292" stroke-width="1.3" stroke-linecap="round"/>
<text x="364" y="570.4" font-size="10.5" fill="#a8a8a8">x</text>
<!-- box plus -->
<g fill="none" stroke="#9c9c9c" stroke-width="1.2"><rect x="386.9" y="562" width="10.1" height="10.25"/><path d="M391.95 564.6 v5 M389.45 567.1 h5" stroke-width="1.5"/><g fill="#9c9c9c" stroke="none"><circle cx="386.9" cy="562" r="1.3"/><circle cx="397" cy="562" r="1.3"/><circle cx="386.9" cy="572.25" r="1.3"/><circle cx="397" cy="572.25" r="1.3"/></g></g>
<!-- copy -->
<g fill="none" stroke="#9a9a9a" stroke-width="1.2"><rect x="413.9" y="561.8" width="9.2" height="7.6" rx="0.8"/><rect x="416.8" y="564.6" width="8.6" height="7.7" rx="0.5" fill="#000"/><path d="M418.4 566.6 h3.4 v2.4 h-3.4 z" fill="#3c3c3c" stroke-width="0.8"/></g>
<!-- eye dashed -->
<g fill="none" stroke="#a4a4a4" stroke-width="1.3"><ellipse cx="448.9" cy="567.15" rx="5.6" ry="3.2"/><circle cx="448.9" cy="567.15" r="1.5" fill="#a4a4a4" stroke="none"/><circle cx="448.9" cy="567.15" r="2" stroke-width="0.7"/><path d="M441.5 561.75 H456 M441.5 572.4 H456" stroke-dasharray="2.7 1.07" stroke-width="1.1"/></g>
<!-- layers -->
<g fill="none" stroke="#a4a4a4" stroke-width="1.4" stroke-linejoin="miter"><path d="M476.4 561.1 L483.6 564 L476.4 566.9 L469.2 564 Z"/><path d="M469.6 567.2 L476.4 570.1 L483.2 567.2"/><path d="M469.6 570.4 L476.4 573.3 L483.2 570.4"/></g>
<!-- gear -->
<g transform="translate(505.6 567)" fill="#a8a8a8"><path fill-rule="evenodd" d="M-1.3 -6 H1.3 L1.7 -4.3 L2.9 -3.6 L4.5 -4.1 L5.8 -1.9 L4.6 -0.7 V0.7 L5.8 1.9 L4.5 4.1 L2.9 3.6 L1.7 4.3 L1.3 6 H-1.3 L-1.7 4.3 L-2.9 3.6 L-4.5 4.1 L-5.8 1.9 L-4.6 0.7 V-0.7 L-5.8 -1.9 L-4.5 -4.1 L-2.9 -3.6 L-1.7 -4.3 Z M0 -2.1 a2.1 2.1 0 1 0 0.01 0 Z"/></g>
<!-- share -->
<g fill="none" stroke="#9a9a9a" stroke-width="1.4"><path d="M531.6 564.6 H529.3 V572.7 H538.7 V564.6 H536.4"/><path d="M533.9 569 V562"/><path d="M531.1 562.8 L533.9 559.6 L536.7 562.8 Z" fill="#9a9a9a" stroke-width="0.6"/></g>
<!-- undo / redo -->
<g fill="none" stroke="#585858" stroke-width="1.5"><path d="M559 564.3 H565.6 a2.85 2.85 0 0 1 0 5.7 H559.2"/><path d="M556.2 564.3 L559.6 561.9 V566.7 Z" fill="#585858" stroke="none"/><path d="M594 564.3 H587.5 a2.85 2.85 0 0 0 0 5.7 H594"/><path d="M596.8 564.3 L594.1 561.7 V566.9 Z" fill="#585858" stroke="none"/></g>
<!-- fullscreen -->
<path fill="none" stroke="#a8a8a8" stroke-width="1.1" d="M882.6 565 V561.6 H887 M891 561.6 H895.4 V565 M895.4 569.2 V572.6 H891 M887 572.6 H882.6 V569.2"/>
<!-- scrollbar -->
<rect x="544.7" y="583.4" width="106.4" height="3" rx="1.5" fill="#454545"/>

<!-- annotation: highlight box + arrow -->
<rect x="294.85" y="551.5" width="30.4" height="30.55" fill="none" stroke="#f2f2f2" stroke-width="1.7"/>
<path d="M332.3 533.5 L324.9 551.6 L343.1 560.7 M324.9 551.6 L367.5 535.3" fill="none" stroke="#fff" stroke-width="6.8" stroke-linejoin="miter" stroke-linecap="butt"/>
</svg>
</body>
</html>
